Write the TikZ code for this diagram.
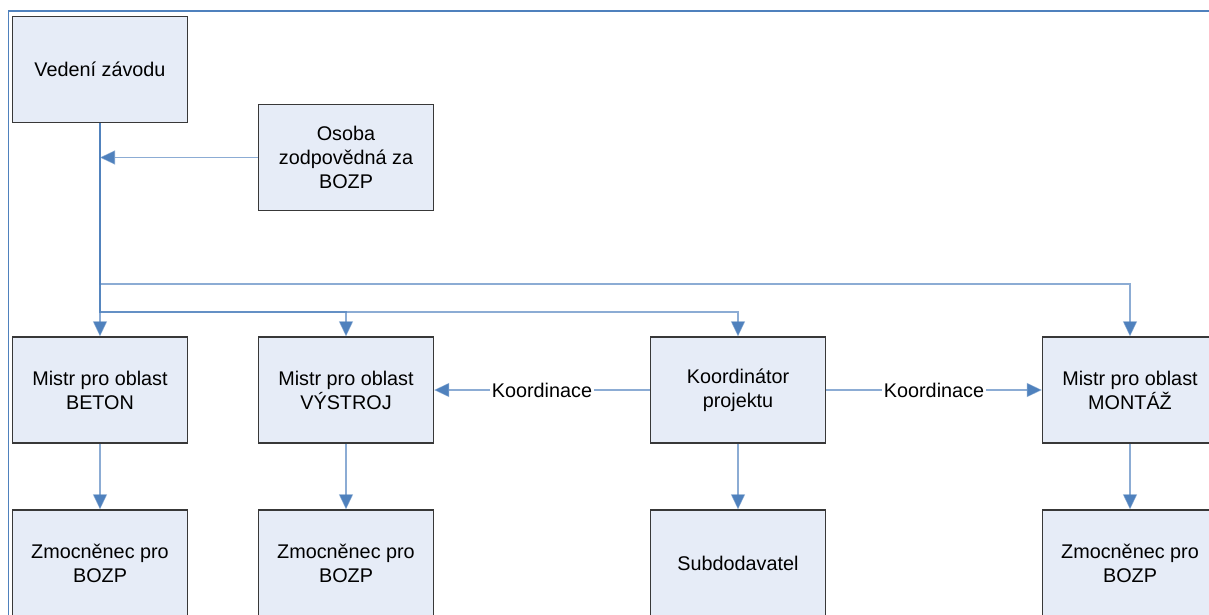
\documentclass[tikz,border=0pt]{standalone}
\usepackage{fontspec}
\setmainfont{Liberation Sans}
\usetikzlibrary{arrows.meta}
\definecolor{linkblue}{HTML}{4F81BD}
\definecolor{boxfill}{HTML}{E6ECF7}
\definecolor{boxline}{HTML}{383838}
\definecolor{framecol}{HTML}{4F81BD}
\begin{document}
\begin{tikzpicture}[
  x=0.5pt, y=-0.5pt,
  unit/.style={draw=boxline, line width=0.65pt, fill=boxfill, inner sep=0pt,
    minimum width=87.5pt, minimum height=53pt, align=center,
    font=\fontsize{9.9}{12}\selectfont},
  conn/.style={draw=linkblue, line width=0.6pt, draw opacity=0.65,
    -{Triangle[length=7.5pt,width=7pt,fill=linkblue]}},
  tag/.style={fill=white, inner sep=1pt, font=\fontsize{9.9}{12}\selectfont}
]
\useasboundingbox (0,0) rectangle (1209,615);
\fill[white] (0,0) rectangle (1209,615);
% outer frame, running off the page to the right and bottom
\draw[framecol, line width=0.8pt] (8.5,640) -- (8.5,11) -- (1240,11);

% management and safety officer
\node[unit] (ved) at (100,69.5) {Vedení závodu};
\node[unit] (osoba) at (346,157.5) {Osoba\\zodpovědná za\\BOZP};

% foremen and project coordinator
\node[unit] (beton) at (100,390) {Mistr pro oblast\\BETON};
\node[unit] (vystroj) at (346,390) {Mistr pro oblast\\VÝSTROJ};
\node[unit] (koord) at (738,390) {Koordinátor\\projektu};
\node[unit] (montaz) at (1130,390) {Mistr pro oblast\\MONTÁŽ};

% bottom row
\node[unit] (zm1) at (100,563) {Zmocněnec pro\\BOZP};
\node[unit] (zm2) at (346,563) {Zmocněnec pro\\BOZP};
\node[unit] (sub) at (738,563) {Subdodavatel};
\node[unit] (zm4) at (1130,563) {Zmocněnec pro\\BOZP};

% bus levels below the management box
\coordinate (busA) at (0,312);
\coordinate (busB) at (0,284);

% connectors from management
\draw[conn] (ved.south) -- (beton.north);
\draw[conn] (ved.south) -- (ved.south |- busA) -| (vystroj.north);
\draw[conn] (ved.south) -- (ved.south |- busA) -| (koord.north);
\draw[conn] (ved.south) -- (ved.south |- busB) -| (montaz.north);
\draw[conn] (osoba.west) -- (ved.south |- osoba.west);

% coordination links
\draw[conn] (koord.west) -- node[tag] {Koordinace} (vystroj.east);
\draw[conn] (koord.east) -- node[tag] {Koordinace} (montaz.west);

% down to the bottom row
\draw[conn] (beton.south) -- (zm1.north);
\draw[conn] (vystroj.south) -- (zm2.north);
\draw[conn] (koord.south) -- (sub.north);
\draw[conn] (montaz.south) -- (zm4.north);
\end{tikzpicture}
\end{document}
